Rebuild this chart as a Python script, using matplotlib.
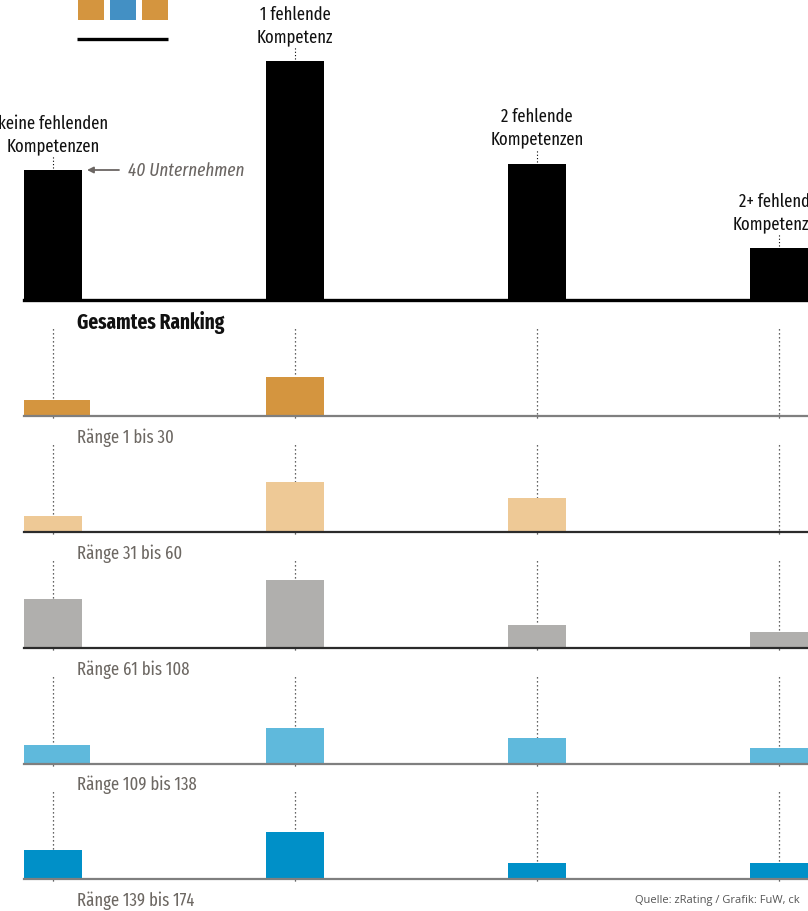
import os
import matplotlib
matplotlib.use("Agg")
import matplotlib.pyplot as plt
from matplotlib import font_manager as fm
from matplotlib.patches import Rectangle

# data: number of companies per group
groups = ["keine fehlenden\nKompetenzen", "1 fehlende\nKompetenz",
          "2 fehlende\nKompetenzen", "2+ fehlende\nKompetenzen"]
total = [40, 73.5, 42, 16]

panel_labels = ["Ränge 1 bis 30", "Ränge 31 bis 60", "Ränge 61 bis 108",
                "Ränge 109 bis 138", "Ränge 139 bis 174"]
rank_1_30 = [5, 12, 0, 0]
rank_31_60 = [5, 15.5, 10.5, 0]
rank_61_108 = [15, 21, 7, 5]
rank_109_138 = [6, 11, 8, 5]
rank_139_174 = [9, 14.5, 5, 5]
panels = [rank_1_30, rank_31_60, rank_61_108, rank_109_138, rank_139_174]

header = "Gesamtes Ranking"
annot = "40 Unternehmen"
source = "Quelle: zRating / Grafik: FuW, ck"

colors = ['#d4953f', '#eec996', '#b0afad', '#5fb9dc', '#0090c8']
base_colors = ['#7f7f7f', '#2b2b2b', '#2b2b2b', '#7f7f7f', '#7f7f7f']


# the original uses a condensed sans; take the narrowest one installed
def find_condensed(italic, weight):
    good = []
    for f in fm.fontManager.ttflist:
        fn = os.path.basename(f.fname).lower()
        key = (f.name + ' ' + fn).lower()
        if 'serif' in key or 'mono' in key:
            continue
        if 'extracondensed' in fn or 'extra condensed' in key:
            rank = 0
        elif 'narrow' in key:
            rank = 1
        elif 'semicondensed' in fn or 'semi condensed' in key:
            rank = 3
        elif 'condensed' in key or f.stretch == 'condensed':
            rank = 2
        else:
            continue
        if italic != (f.style in ('italic', 'oblique')):
            continue
        w = f.weight if isinstance(f.weight, int) else fm.weight_dict.get(f.weight, 400)
        if abs(w - weight) > 120:
            continue
        if 'noto' in key:
            rank -= 0.5
        good.append((rank, abs(w - weight), fn, f.fname))
    good.sort()
    return good[0] if good else None


def fp(size, italic=False, weight=400):
    hit = find_condensed(italic, weight)
    if hit:
        # DejaVu condensed is still wide, step it down a bit
        if 'dejavu' in hit[2]:
            size = size * 0.9
        return fm.FontProperties(fname=hit[3], size=size)
    return fm.FontProperties(family='DejaVu Sans', style='italic' if italic else 'normal',
                             weight='bold' if weight > 500 else 'normal', size=size * 0.85)


W, H = 808, 912
fig = plt.figure(figsize=(W / 100, H / 100), dpi=100)

PX_X = 242.0      # pixels per group step
X0 = 53.0         # pixel position of first group
PX_Y = 3.25       # pixels per company
x = list(range(len(groups)))
xlim = (-X0 / PX_X, (W - X0) / PX_X)
bw = 58 / PX_X


def add_px_axes(top, bottom):
    return fig.add_axes([0, 1 - bottom / H, 1, (bottom - top) / H])


# main chart
ax = add_px_axes(0, 301)
ax.set_xlim(*xlim)
ax.set_ylim(0, 301 / PX_Y)
ax.axis('off')
ax.bar(x, total, width=bw, color='black', zorder=2)
ax.axhline(0, xmin=24 / W, xmax=1, color='black', lw=2.4, clip_on=False, zorder=3)
for xi, v, lab in zip(x, total, groups):
    ax.vlines(xi, v + 0.6, v + 4.3, colors='black', lw=0.8,
              linestyles=(0, (1, 2)), zorder=1)
    ax.annotate(lab, xy=(xi, v), xytext=(0, 16), textcoords='offset pixels',
                ha='center', va='bottom', fontproperties=fp(13),
                linespacing=1.35, color='#111111')

# "40 Unternehmen" hint
ax.annotate('', xy=((87 - X0) / PX_X, total[0]),
            xytext=((119 - X0) / PX_X, total[0]),
            arrowprops=dict(arrowstyle='-|>', color='#6b6663', lw=1.3,
                            mutation_scale=9, shrinkA=0, shrinkB=0))
ax.text((128 - X0) / PX_X, total[0], annot, ha='left', va='center',
        fontproperties=fp(13.5, italic=True), color='#6b6663')

# small panels
baselines = [417, 533, 649, 765, 880]
label_y = [438, 554, 670, 785, 901]
for i, (vals, col, b) in enumerate(zip(panels, colors, baselines)):
    pax = add_px_axes(b - 95, b)
    pax.set_xlim(*xlim)
    pax.set_ylim(0, 95 / PX_Y)
    pax.axis('off')
    widths = [bw] * len(vals)
    if i in (0, 3):
        widths[0] = 66 / PX_X
    lefts = [xi - bw / 2 for xi in x]
    pax.bar(lefts, vals, width=widths, align='edge', color=col, zorder=2)
    pax.vlines(x, -0.6, 90 / PX_Y, colors='#333333', lw=0.9,
               linestyles=(0, (1, 2.2)), zorder=1, clip_on=False)
    pax.axhline(0, xmin=24 / W, xmax=1, color=base_colors[i], lw=1.6,
                clip_on=False, zorder=3)

# overlay for texts and legend in pixel coordinates
ov = fig.add_axes([0, 0, 1, 1])
ov.set_xlim(0, W)
ov.set_ylim(H, 0)
ov.axis('off')
ov.patch.set_alpha(0)

ov.text(77, 323, header, ha='left', va='center',
        fontproperties=fp(15, weight=700), color='#111111')
for lab, ly in zip(panel_labels, label_y):
    ov.text(77, ly, lab, ha='left', va='center', fontproperties=fp(13),
            color='#6d6863')

ov.text(800, 901, source, ha='right', va='center', fontsize=8,
        family='Open Sans', color='#555555')

# clipped legend at the top left
for lx, c in zip([78, 110, 142], ['#d4953f', '#4390c4', '#d4953f']):
    ov.add_patch(Rectangle((lx, -10), 26, 31, color=c, lw=0))
ov.plot([77, 168], [40, 40], color='black', lw=2.4, solid_capstyle='butt')

fig.savefig('out.png', dpi=100)
